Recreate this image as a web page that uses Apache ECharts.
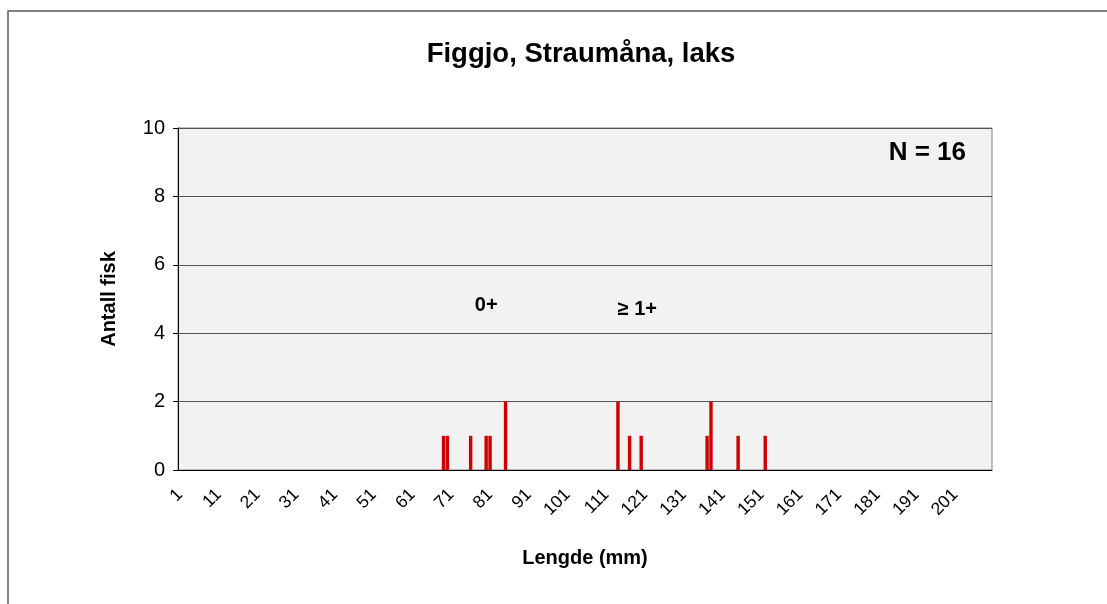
<!DOCTYPE html>
<html>
<head>
<meta charset="utf-8">
<title>Figgjo, Straumåna, laks</title>
<script src="https://cdn.jsdelivr.net/npm/echarts@6/dist/echarts.min.js"></script>
<style>
  html, body { margin: 0; padding: 0; background: #ffffff; }
  #chart { width: 1107px; height: 604px; }
</style>
</head>
<body>
<div id="chart"></div>
<script>
// Length classes (mm) shown on the category axis
const firstLength = 1;
const lastLength = 210;
const lengthClasses = [];
for (let l = firstLength; l <= lastLength; l++) lengthClasses.push(String(l));

// Measured fish: length (mm) and number of fish at that length
const fishLengths = [69, 70, 76, 80, 81, 85, 114, 117, 120, 137, 138, 145, 152];
const fishCounts  = [1, 1, 1, 1, 1, 2, 2, 1, 1, 1, 2, 1, 1];

// Y axis ticks
const yTicks = [0, 2, 4, 6, 8, 10];

// Age group labels: [text, length class, height]
const ageLabels = [
  ['0+', '80', 4.8],
  ['\u2265 1+', '119', 4.7]
];

const totalFish = fishCounts.reduce((a, b) => a + b, 0);

const font = 'Liberation Sans, Arial, sans-serif';
const chart = echarts.init(document.getElementById('chart'));

chart.setOption({
  animation: false,
  backgroundColor: '#ffffff',
  textStyle: { fontFamily: font },
  title: {
    text: 'Figgjo, Straumåna, laks',
    left: 576,
    top: 35,
    textAlign: 'center',
    textStyle: { fontSize: 27.5, fontWeight: 'bold', color: '#000', fontFamily: font }
  },
  grid: {
    left: 178,
    right: 115,
    top: 128,
    bottom: 134,
    show: true,
    backgroundColor: '#f2f2f2',
    borderColor: '#808080',
    borderWidth: 1
  },
  xAxis: {
    type: 'category',
    data: lengthClasses,
    boundaryGap: true,
    name: 'Lengde (mm)',
    nameLocation: 'middle',
    nameGap: 78,
    nameTextStyle: { fontSize: 20, fontWeight: 'bold', color: '#000', fontFamily: font },
    axisLine: { lineStyle: { color: '#000', width: 1 } },
    axisTick: { interval: 9, length: 5, lineStyle: { color: '#000' } },
    axisLabel: {
      interval: 9,
      rotate: 45,
      margin: 22,
      fontSize: 17.5,
      color: '#000',
      fontFamily: font
    },
    splitLine: { show: false }
  },
  yAxis: {
    type: 'value',
    min: yTicks[0],
    max: yTicks[yTicks.length - 1],
    interval: yTicks[1] - yTicks[0],
    name: 'Antall fisk',
    nameLocation: 'middle',
    nameGap: 59,
    nameRotate: 90,
    nameTextStyle: { fontSize: 20, fontWeight: 'bold', color: '#000', fontFamily: font },
    axisLine: { show: true, lineStyle: { color: '#000', width: 1 } },
    axisTick: { show: true, length: 5, lineStyle: { color: '#000' } },
    axisLabel: { fontSize: 20, margin: 13, color: '#000', fontFamily: font },
    splitLine: { show: true, lineStyle: { color: '#555555', width: 1 } }
  },
  series: [{
    type: 'bar',
    data: fishLengths.map((l, i) => [String(l), fishCounts[i]]),
    barWidth: '88%',
    itemStyle: { color: '#cc0000' },
    markPoint: {
      symbol: 'circle',
      symbolSize: 0,
      silent: true,
      label: {
        show: true,
        position: 'inside',
        fontSize: 20,
        fontWeight: 'bold',
        color: '#000',
        fontFamily: font,
        formatter: p => p.name
      },
      data: ageLabels.map(a => ({ name: a[0], coord: [a[1], a[2]] }))
    }
  }],
  graphic: [
    {
      type: 'rect',
      shape: { x: 8, y: 11, width: 1300, height: 800 },
      style: { fill: 'none', stroke: '#5a5a5a', lineWidth: 1.5 },
      silent: true,
      z: -1
    },
    {
      type: 'text',
      right: 141,
      top: 140,
      style: {
        text: 'N = ' + totalFish,
        font: 'bold 26px ' + font,
        fill: '#000'
      }
    }
  ]
});
</script>
</body>
</html>
